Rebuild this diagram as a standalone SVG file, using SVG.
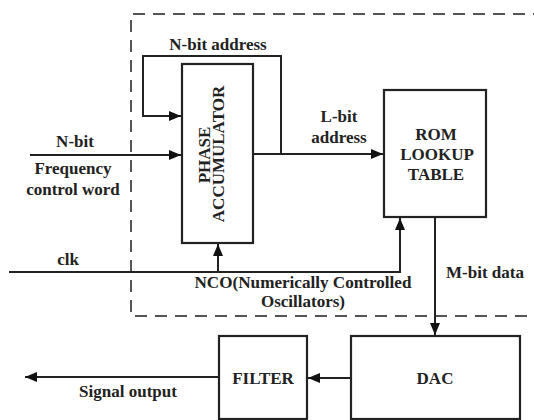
<svg xmlns="http://www.w3.org/2000/svg" width="534" height="420" viewBox="0 0 534 420" font-family="'Liberation Serif', 'DejaVu Serif', serif" font-weight="bold" font-size="17">
<defs>
<marker id="ah" markerUnits="userSpaceOnUse" markerWidth="14" markerHeight="12" refX="12" refY="5" orient="auto">
<path d="M0,0 L12,5 L0,10 Z" fill="#111"/>
</marker>
<style>
.box{fill:#fff;stroke:#222;stroke-width:2.2}
.ln{fill:none;stroke:#222;stroke-width:2}
.dash{fill:none;stroke:#555;stroke-width:2;stroke-dasharray:12 8}
text{font-family:'Liberation Serif','DejaVu Serif',serif;font-weight:bold;font-size:17px;fill:#222}
.c{text-anchor:middle}
</style>
</defs>
<rect width="534" height="420" fill="#fff"/>
<path class="dash" d="M545,14 H131 V316 H545"/>
<g id="connectors">
<path class="ln" d="M253,154 H383" marker-end="url(#ah)"/>
<path class="ln" d="M281,154 V56 H143 V116 H181" marker-end="url(#ah)"/>
<path class="ln" d="M30,155 H181" marker-end="url(#ah)"/>
<path class="ln" d="M9,272 H400 V218" marker-end="url(#ah)"/>
<path class="ln" d="M218,272 V244" marker-end="url(#ah)"/>
<path class="ln" d="M435,218 V335" marker-end="url(#ah)"/>
<path class="ln" d="M351,378 H308" marker-end="url(#ah)"/>
<path class="ln" d="M219,377 H25" marker-end="url(#ah)"/>
</g>
<g id="labels">
<text x="218" y="50" class="c">N-bit address</text>
<text x="75" y="147" class="c">N-bit</text>
<text x="73" y="174" class="c">Frequency</text>
<text x="73" y="195" class="c">control word</text>
<text x="339" y="122" class="c">L-bit</text>
<text x="339" y="143" class="c">address</text>
<text x="68" y="265" class="c">clk</text>
<text x="303" y="288" class="c" textLength="217" lengthAdjust="spacingAndGlyphs">NCO(Numerically Controlled</text>
<text x="303" y="307" class="c">Oscillators)</text>
<text x="485" y="278" class="c">M-bit data</text>
<text x="128" y="397" class="c">Signal output</text>
</g>
<g id="phase-accumulator">
<rect class="box" x="182" y="64" width="71" height="179"/>
<text class="c" transform="translate(210,155) rotate(-90)">PHASE</text>
<text class="c" transform="translate(224,154) rotate(-90)">ACCUMULATOR</text>
</g>
<g id="rom">
<rect class="box" x="384" y="90" width="102" height="127"/>
<text x="436" y="140" class="c">ROM</text>
<text x="437" y="160" class="c">LOOKUP</text>
<text x="436" y="180" class="c">TABLE</text>
</g>
<g id="dac">
<rect class="box" x="351" y="336" width="169" height="83"/>
<text x="435" y="384" class="c">DAC</text>
</g>
<g id="filter">
<rect class="box" x="219" y="336" width="88" height="83"/>
<text x="263" y="384" class="c">FILTER</text>
</g>
</svg>
